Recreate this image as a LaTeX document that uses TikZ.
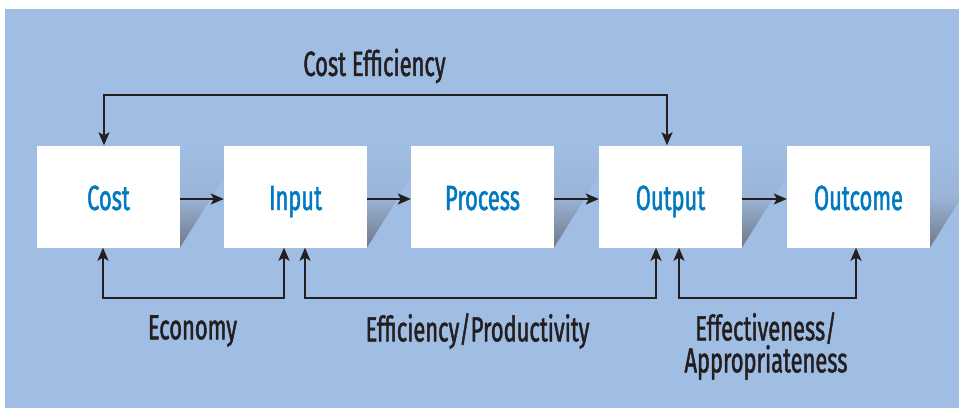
\documentclass[tikz,border=0pt]{standalone}
\usepackage{fontspec}
\setmainfont{Fira Sans}[FakeStretch=0.625, FakeBold=1.3]
\usetikzlibrary{arrows.meta}
\definecolor{panel}{RGB}{160,189,227}
\definecolor{labelblue}{RGB}{0,121,193}
\definecolor{ink}{RGB}{35,31,32}
\definecolor{shadowgrey}{RGB}{112,120,136}
\begin{document}
\begin{tikzpicture}[x=1pt,y=-1pt,
  >={Stealth[length=13pt,width=11pt,inset=3pt]},
  stage/.style={fill=white, minimum width=143pt, minimum height=102pt,
    inner sep=0pt, text height=30pt, text depth=3pt,
    text=labelblue, font=\fontsize{35}{40}\selectfont},
  flow/.style={draw=ink, line width=2pt, ->},
  link/.style={draw=ink, line width=2pt, <->},
  caption/.style={text=ink, align=center, inner sep=0pt,
    font=\fontsize{35}{30}\selectfont},
  dropshade/.style={top color=panel, bottom color=shadowgrey, middle color=panel!88!shadowgrey}]

% canvas and panel
\useasboundingbox (0,0) rectangle (959,408);
\fill[white] (0,0) rectangle (959,408);
\fill[panel] (5,9) rectangle (959,408);
\clip (0,0) rectangle (959,408);

% coordinates of the stage centres
\coordinate (c1) at (108.5,196.5);
\coordinate (c2) at (295.5,196.5);
\coordinate (c3) at (482.5,196.5);
\coordinate (c4) at (670.5,196.5);
\coordinate (c5) at (858.5,196.5);

% perspective shadows to the right of each stage
\foreach \c in {c1,c2,c3,c4,c5}{
  \shade[dropshade] ([shift={(71.5,-51)}]\c) -- ++(44,0) -- ++(0,32) -- ([shift={(71.5,51)}]\c) -- cycle;
}

% stages
\node[stage] (cost)    at (c1) {Cost};
\node[stage] (input)   at (c2) {Input};
\node[stage] (process) at (c3) {Process};
\node[stage] (output)  at (c4) {Output};
\node[stage] (outcome) at (c5) {Outcome};

% forward flow
\draw[flow] ([yshift=-2.5pt]cost.east)    -- ([yshift=-2.5pt]input.west);
\draw[flow] ([yshift=-2.5pt]input.east)   -- ([yshift=-2.5pt]process.west);
\draw[flow] ([yshift=-2.5pt]process.east) -- ([yshift=-2.5pt]output.west);
\draw[flow] ([yshift=-2.5pt]output.east)  -- ([yshift=-2.5pt]outcome.west);

% measurement loops
\draw[link] ([xshift=-4.5pt]cost.north) -- ++(0,-50) -| ([xshift=-3.5pt]output.north);
\draw[link] ([xshift=-5.5pt]cost.south) -- ++(0,50) -| ([xshift=-11.5pt]input.south);
\draw[link] ([xshift=9.5pt]input.south) -- ++(0,50) -| ([xshift=-14.5pt]output.south);
\draw[link] ([xshift=8.5pt]output.south) -- ++(0,50) -| ([xshift=-2.5pt]outcome.south);

% loop captions
\node[caption] (ce)  at (374.5,66)  {Cost Efficiency};
\node[caption] (eco) at (192.5,331) {Economy};
\node[caption] (eff) at (477.5,331) {Efficiency/Productivity};
\node[caption] (app) at (766,346)   {Effectiveness/\\Appropriateness};
\end{tikzpicture}
\end{document}
